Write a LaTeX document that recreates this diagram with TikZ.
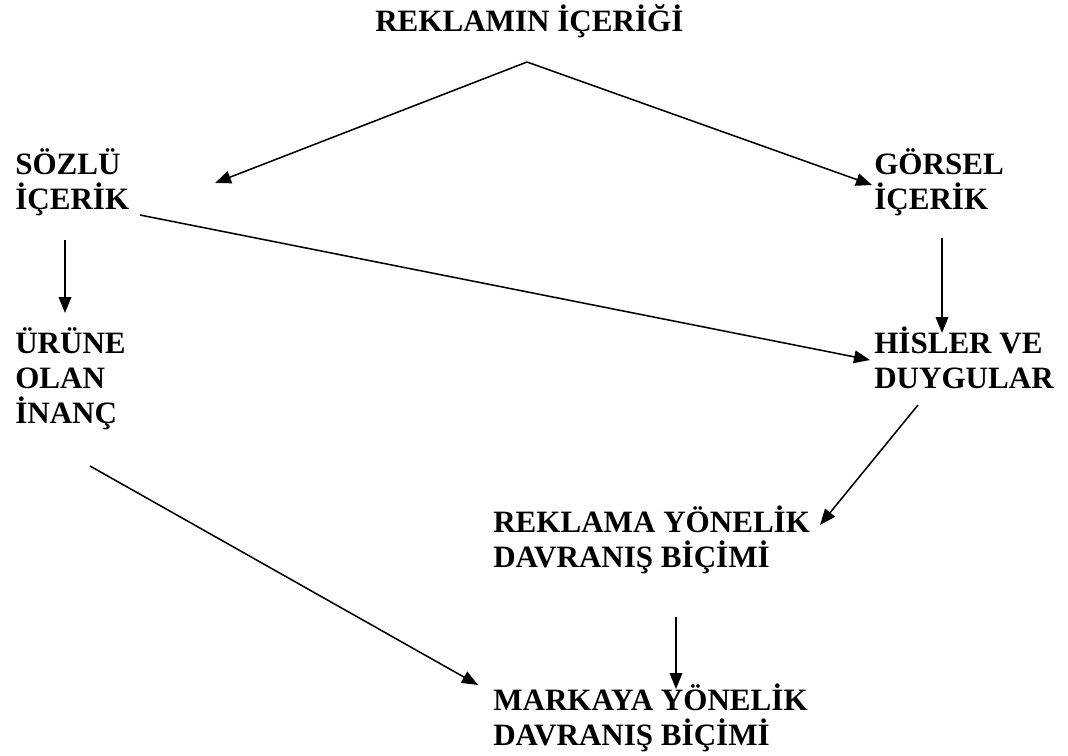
\documentclass[tikz,border=0pt]{standalone}
\usepackage{fontspec}
\setmainfont{Liberation Serif}
\usetikzlibrary{arrows.meta}
\newcommand\mylines[1]{\vtop{\halign{##\hfil\cr#1\crcr}}}
\begin{document}
\begin{tikzpicture}[x=0.75pt,y=-0.75pt,
  lbl/.style={anchor=base west,inner sep=0pt,
    font=\fontsize{23.3pt}{26.25pt}\selectfont\bfseries},
  arr/.style={line width=1.15pt,-{Triangle[length=12pt,width=9.5pt]}}]
\useasboundingbox (0,0) rectangle (1068,756);
\node[lbl] (top) at (375,32) {REKLAMIN İÇERİĞİ};
\node[lbl] (sozlu) at (15,175) {\mylines{SÖZLÜ\cr İÇERİK}};
\node[lbl] (gorsel) at (874,175) {\mylines{GÖRSEL\cr İÇERİK}};
\node[lbl] (urune) at (15,353) {\mylines{ÜRÜNE\cr OLAN\cr İNANÇ}};
\node[lbl] (hisler) at (874,353) {\mylines{HİSLER VE\cr DUYGULAR}};
\node[lbl] (reklama) at (493,532) {\mylines{REKLAMA YÖNELİK\cr DAVRANIŞ BİÇİMİ}};
\node[lbl] (markaya) at (493,710) {\mylines{MARKAYA YÖNELİK\cr DAVRANIŞ BİÇİMİ}};
\coordinate (apex) at (527,62);
\coordinate (sozluIn) at (215,183);
\coordinate (gorselIn) at (872,185);
\coordinate (sozluOutA) at (65,240);
\coordinate (urunIn) at (65,313);
\coordinate (sozluOutB) at (140,215);
\coordinate (hislerInA) at (870,360);
\coordinate (gorselOut) at (942,238);
\coordinate (hislerInB) at (942,333);
\coordinate (hislerOut) at (918,405);
\coordinate (reklamaIn) at (820,525);
\coordinate (urunOut) at (90,466);
\coordinate (markayaInA) at (478,685);
\coordinate (reklamaOut) at (676,617);
\coordinate (markayaInB) at (676,689);
\draw[arr] (apex) -- (sozluIn);
\draw[arr] (apex) -- (gorselIn);
\draw[arr] (sozluOutA) -- (urunIn);
\draw[arr] (sozluOutB) -- (hislerInA);
\draw[arr] (gorselOut) -- (hislerInB);
\draw[arr] (hislerOut) -- (reklamaIn);
\draw[arr] (urunOut) -- (markayaInA);
\draw[arr] (reklamaOut) -- (markayaInB);
\end{tikzpicture}
\end{document}
